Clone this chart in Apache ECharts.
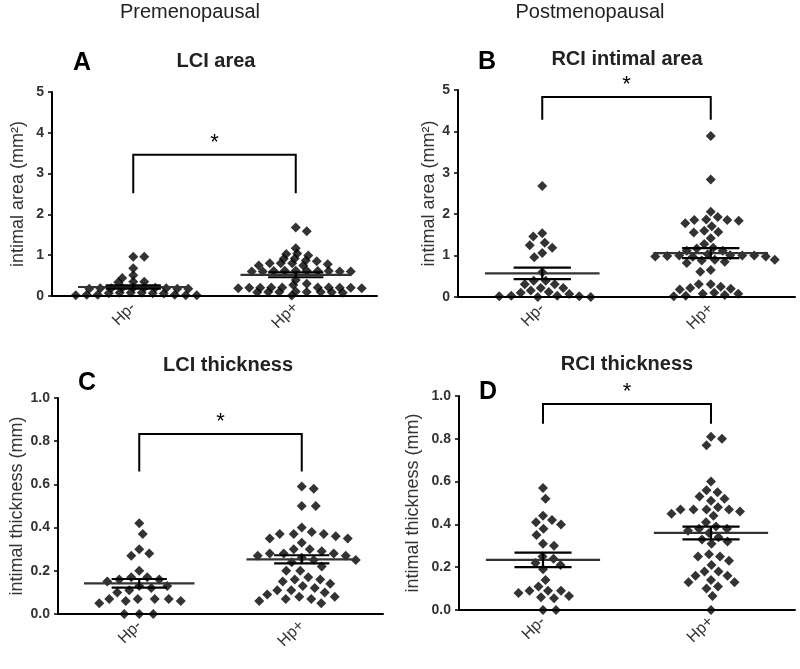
<!DOCTYPE html>
<html><head><meta charset="utf-8">
<script src="https://cdn.jsdelivr.net/npm/echarts@6/dist/echarts.min.js"></script>
<style>html,body{margin:0;padding:0;background:#fff}#c{width:800px;height:669px}</style>
</head><body><div id="c"></div>
<script>
// ---- data ----
const groups = ['Hp-', 'Hp+'];
const headers = ['Premenopausal', 'Postmenopausal'];
const panelLetters = ['A', 'B', 'C', 'D'];
const panelTitles = ['LCI area', 'RCI intimal area', 'LCI thickness', 'RCI thickness'];
const yNames = ['intimal area (mm²)', 'intimal area (mm²)', 'intimal thickness (mm)', 'intimal thickness (mm)'];
const yMax = [5, 5, 1, 1];
const yStep = [1, 1, 0.2, 0.2];

const lciAreaNeg = [0.96,0.96,0.68,0.51,0.44,0.35,0.34,0.35,0.20,0.20,0.19,0.19,0.18,0.18,0.20,0.19,0.18,0.20,0.08,0.07,0.08,0.07,0.08,0.06,0.03,0.02,0.02,0.03,0.02,0.03];
const lciAreaPos = [1.68,1.59,1.17,1.03,0.99,1.04,0.92,0.87,0.85,0.91,0.80,0.75,0.80,0.78,0.80,0.75,0.62,0.60,0.61,0.60,0.62,0.61,0.60,0.61,0.62,0.60,0.39,0.30,0.27,0.21,0.20,0.21,0.19,0.20,0.21,0.19,0.20,0.21,0.20,0.10,0.09,0.10,0.08,0.10,0.09,0.11,0.10,0.01];
const rciAreaNeg = [2.68,1.54,1.46,1.31,1.25,1.19,1.06,0.96,0.60,0.39,0.39,0.31,0.31,0.22,0.22,0.16,0.12,0.10,0.07,0.03,0.03,0.02,0.02,0.00,0.00];
const rciAreaPos = [3.89,2.84,2.06,1.93,1.87,1.86,1.86,1.84,1.78,1.71,1.60,1.57,1.56,1.42,1.28,1.19,1.17,1.12,1.12,1.03,1.00,0.98,1.00,0.99,1.01,1.00,0.98,0.97,0.90,0.90,0.82,0.85,0.88,0.65,0.61,0.31,0.31,0.25,0.22,0.20,0.18,0.10,0.08,0.05,0.03,0.02,0.08];
const lciThickNeg = [0.42,0.37,0.30,0.28,0.27,0.20,0.17,0.17,0.16,0.16,0.15,0.13,0.13,0.12,0.11,0.10,0.07,0.07,0.07,0.07,0.06,0.06,0.05,0.00,0.00,0.00];
const lciThickPos = [0.59,0.58,0.50,0.50,0.40,0.38,0.37,0.37,0.37,0.36,0.35,0.35,0.33,0.30,0.30,0.29,0.28,0.28,0.28,0.27,0.27,0.26,0.25,0.25,0.24,0.22,0.20,0.20,0.17,0.16,0.16,0.15,0.14,0.13,0.12,0.11,0.11,0.10,0.09,0.08,0.08,0.07,0.07,0.06,0.05];
const rciThickNeg = [0.57,0.52,0.44,0.42,0.41,0.40,0.38,0.35,0.31,0.30,0.25,0.24,0.22,0.21,0.19,0.14,0.11,0.09,0.09,0.09,0.08,0.065,0.06,0.055,0.00,0.00];
const rciThickPos = [0.81,0.80,0.77,0.60,0.56,0.55,0.53,0.52,0.51,0.48,0.47,0.47,0.47,0.47,0.46,0.45,0.44,0.41,0.39,0.38,0.38,0.37,0.36,0.34,0.33,0.32,0.31,0.26,0.25,0.25,0.23,0.21,0.18,0.18,0.16,0.16,0.14,0.13,0.13,0.11,0.10,0.065,0.00];

const panelData = [[lciAreaNeg, lciAreaPos],[rciAreaNeg, rciAreaPos],[lciThickNeg, lciThickPos],[rciThickNeg, rciThickPos]];
const means = [[0.22,0.52],[0.57,1.06],[0.142,0.253],[0.234,0.36]];
const sems  = [[0.04,0.06],[0.14,0.12],[0.02,0.019],[0.034,0.03]];
// significance brackets: [bar level, leg bottom level]
const brackets = [[3.46,2.52],[4.83,4.28],[0.833,0.66],[0.963,0.87]];

// ---- layout ----
const grids = [
  {left:52, top:92, width:325, height:204},
  {left:458, top:90, width:337, height:207},
  {left:58, top:398, width:325, height:216},
  {left:459, top:396, width:336, height:214}
];
const nameGaps = [25, 19, 32, 37];
// marker clearance for the dot layout, px: [horizontal, vertical, same-row band]
const swarmSpacing = [[11,6,4],[12,12,0],[14,14,0],[13,13,0]];
const titlePos = [[216,61],[627,59],[228,365],[627,364]];
const letterPos = [[82,63],[487,62],[87,383],[488,392]];
const FONT = 'Liberation Sans, Arial, sans-serif';

// simple beeswarm: place points (sorted top-down) at the smallest horizontal offset without overlap
function swarm(values, center, g, ymax, sp){
  const pxY = g.height / ymax, pxX = g.width / 2, Dx = sp[0], Dy = sp[1], Db = sp[2];
  const pts = values.map(v=>({v:v, y:v*pxY})).sort((a,b)=>b.v-a.v);
  const placed = [], out = [];
  const hit = (q,x,y)=>{
    const dx=Math.abs(q.x-x), dy=Math.abs(q.y-y);
    return (dx/Dx + dy/Dy < 1) || (dx < Dx && dy < Db);
  };
  pts.forEach((p,k)=>{
    let best = null;
    for (let d=0; d<200 && best===null; d+=0.5){
      const order = k%2 ? [1,-1] : [-1,1];
      for (const s of order){
        const x = d*s;
        if (!placed.some(q=>hit(q,x,p.y))) { best = x; break; }
      }
    }
    placed.push({x:best, y:p.y});
    out.push([center + best/pxX, p.v]);
  });
  return out;
}

const option = {
  backgroundColor:'#fff',
  animation:false,
  grid: grids.map(g=>Object.assign({containLabel:false}, g)),
  xAxis: [], yAxis: [], series: [], graphic: []
};

grids.forEach((g,p)=>{
  option.xAxis.push({gridIndex:p, type:'value', min:0.5, max:2.5, interval:0.5, show:false});
  option.xAxis.push({gridIndex:p, type:'category', data:groups, boundaryGap:true, position:'bottom',
    axisLine:{lineStyle:{color:'#000', width:2}},
    axisTick:{alignWithLabel:true, length:4, lineStyle:{color:'#000', width:1.5}},
    axisLabel:{rotate:45, color:'#333', fontSize:16, fontFamily:FONT, margin:9}
  });
  option.yAxis.push({gridIndex:p, type:'value', min:0, max:yMax[p], interval:yStep[p],
    name:yNames[p], nameLocation:'middle', nameGap:nameGaps[p],
    nameTextStyle:{color:'#333', fontSize:18, fontFamily:FONT},
    axisLine:{show:true, lineStyle:{color:'#000', width:2}},
    axisTick:{show:true, length:4, lineStyle:{color:'#000', width:1.5}},
    splitLine:{show:false},
    axisLabel:{color:'#333', fontSize:14, fontWeight:'bold', fontFamily:FONT, margin:8,
      formatter: v => yStep[p] < 1 ? v.toFixed(1) : String(v)}
  });
  const xi = p*2;
  panelData[p].forEach((vals,gi)=>{
    option.series.push({type:'scatter', xAxisIndex:xi, yAxisIndex:p, symbol:'diamond', symbolSize:10,
      itemStyle:{color:'#000'}, data: swarm(vals, gi+1, g, yMax[p], swarmSpacing[p]), z:2});
  });
  option.series.push({type:'custom', xAxisIndex:xi, yAxisIndex:p, z:5,
    data: means[p].map((m,gi)=>[gi+1, m, sems[p][gi]]),
    renderItem:(params, api)=>{
      const x=api.value(0), m=api.value(1), s=api.value(2);
      const L=api.coord([x-0.34,m]), R=api.coord([x+0.34,m]);
      const uL=api.coord([x-0.17,m+s]), uR=api.coord([x+0.17,m+s]);
      const lL=api.coord([x-0.17,m-s]), lR=api.coord([x+0.17,m-s]);
      const st={stroke:'#000', lineWidth:2.2};
      return {type:'group', children:[
        {type:'line', shape:{x1:L[0],y1:L[1],x2:R[0],y2:R[1]}, style:{stroke:'#333', lineWidth:2.2}},
        {type:'line', shape:{x1:uL[0],y1:uL[1],x2:uR[0],y2:uR[1]}, style:st},
        {type:'line', shape:{x1:lL[0],y1:lL[1],x2:lR[0],y2:lR[1]}, style:st},
        {type:'line', shape:{x1:(uL[0]+uR[0])/2,y1:uL[1],x2:(uL[0]+uR[0])/2,y2:lL[1]}, style:st}
      ]};
    }
  });
  option.series.push({type:'custom', xAxisIndex:xi, yAxisIndex:p, z:5, clip:false,
    data:[[1, 2, brackets[p][0], brackets[p][1]]],
    renderItem:(params, api)=>{
      const a=api.coord([api.value(0), api.value(3)]), b=api.coord([api.value(0), api.value(2)]);
      const c=api.coord([api.value(1), api.value(2)]), d=api.coord([api.value(1), api.value(3)]);
      return {type:'group', children:[
        {type:'polyline', shape:{points:[a,b,c,d]}, style:{stroke:'#000', lineWidth:2, fill:null}},
        {type:'text', x:(b[0]+c[0])/2, y:b[1]-12, style:{text:'*', fontSize:22, fontFamily:FONT, fill:'#000', align:'center', verticalAlign:'middle'}}
      ]};
    }
  });
  option.graphic.push({type:'text', x:titlePos[p][0], y:titlePos[p][1], style:{text:panelTitles[p], font:'bold 20px '+FONT, fill:'#222', align:'center', verticalAlign:'middle'}});
  option.graphic.push({type:'text', x:letterPos[p][0], y:letterPos[p][1], style:{text:panelLetters[p], font:'bold 25px '+FONT, fill:'#000', align:'center', verticalAlign:'middle'}});
});
option.graphic.push({type:'text', x:190, y:12, style:{text:headers[0], font:'20px '+FONT, fill:'#222', align:'center', verticalAlign:'middle'}});
option.graphic.push({type:'text', x:590, y:12, style:{text:headers[1], font:'20px '+FONT, fill:'#222', align:'center', verticalAlign:'middle'}});

const chart = echarts.init(document.getElementById('c'), null, {renderer:'canvas'});
chart.setOption(option);
</script></body></html>
